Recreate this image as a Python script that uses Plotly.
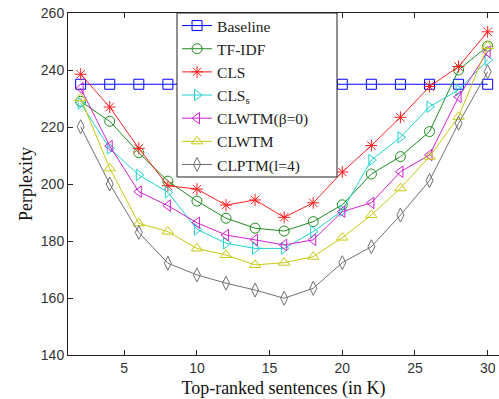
import plotly.graph_objects as go

x_vals = [2, 4, 6, 8, 10, 12, 14, 16, 18, 20, 22, 24, 26, 28, 30]

baseline = [235] * 15
tfidf = [229, 222, 211, 201, 194, 188, 184.5, 183.5, 186.8, 192.7, 203.5, 209.6, 218.4, 240, 248.4]
cls = [238.5, 227, 212.5, 199.4, 198.2, 192.6, 194.4, 188.3, 193.4, 204.2, 213.5, 223.4, 234.2, 241.2, 253.4]
cls_s = [228.3, 212.5, 203.2, 197.1, 184.1, 179.2, 177.4, 177.4, 183.3, 190.6, 208.4, 216.4, 227.1, 233, 243.5]
clwtm_b0 = [233.6, 213.3, 197.3, 192.4, 186.4, 182.1, 180.4, 178.6, 180.4, 190.3, 193.4, 204.3, 210.2, 230.6, 246.4]
clwtm = [230.1, 205.5, 186.2, 183.3, 177.4, 175.1, 171.6, 172.4, 174.5, 181.2, 189.1, 198.5, 209.6, 223.6, 248.4]
clptm = [220.1, 200, 183, 172.2, 168.1, 165.2, 162.8, 159.9, 163.4, 172.4, 178, 189.1, 201.2, 221.3, 239.4]

series_names = ["Baseline", "TF-IDF", "CLS", "CLS<sub>s</sub>", "CLWTM(\u03b2=0)", "CLWTM", "CLPTM(l=4)"]
series_data = [baseline, tfidf, cls, cls_s, clwtm_b0, clwtm, clptm]
colors = ["#0000ff", "#1e8c1e", "#ff2020", "#20d0d0", "#d020d0", "#c8c810", "#707070"]
symbols = ["square-open", "circle-open", "asterisk-open", "triangle-right-open",
           "triangle-left-open", "triangle-up-open", "diamond-tall-open"]
sizes = [10, 10, 10, 10, 10, 10, 10]

SERIF = "Liberation Serif, Times New Roman, Times, serif"
SANS = "Liberation Sans, Arial, sans-serif"

fig = go.Figure()
for name, ys, c, s, sz in zip(series_names, series_data, colors, symbols, sizes):
    fig.add_trace(go.Scatter(
        x=x_vals, y=ys, name=name, mode="lines+markers",
        line=dict(color=c, width=1),
        marker=dict(symbol=s, size=sz, color=c, line=dict(color=c, width=1)),
    ))

# legend frame (opaque box like the original)
fig.add_shape(type="rect", xref="paper", yref="paper",
              x0=0.2529, x1=0.6241, y0=0.5205, y1=1.0,
              line=dict(color="#222", width=1), fillcolor="white", layer="above")

fig.update_layout(
    width=499, height=399,
    margin=dict(l=68, r=0, t=13, b=44),
    paper_bgcolor="white", plot_bgcolor="white",
    showlegend=True,
    legend=dict(
        x=0.253, y=1.0117, xanchor="left", yanchor="top",
        bgcolor="rgba(0,0,0,0)", borderwidth=0,
        font=dict(family=SERIF, size=15.5, color="#222"),
        tracegroupgap=0, itemwidth=30,
    ),
    xaxis=dict(
        range=[1.13, 30.78], tickvals=[5, 10, 15, 20, 25, 30],
        ticks="inside", ticklen=5, tickcolor="#222",
        showline=True, linecolor="#222", linewidth=1, mirror="ticks",
        showgrid=False, zeroline=False,
        tickfont=dict(family=SANS, size=14, color="#333"),
        title=dict(text="Top-ranked sentences (in K)", standoff=6,
                   font=dict(family=SERIF, size=18, color="#111")),
    ),
    yaxis=dict(
        range=[140, 260], tickvals=[140, 160, 180, 200, 220, 240, 260],
        ticks="inside", ticklen=5, tickcolor="#222",
        showline=True, linecolor="#222", linewidth=1,
        showgrid=False, zeroline=False,
        tickfont=dict(family=SANS, size=14, color="#333"),
        title=dict(text="Perplexity", standoff=3,
                   font=dict(family=SERIF, size=18, color="#111")),
    ),
)

fig.write_html("out.html", config={"displayModeBar": False},
               post_script="document.body.style.margin='0';document.body.style.overflow='hidden';")
